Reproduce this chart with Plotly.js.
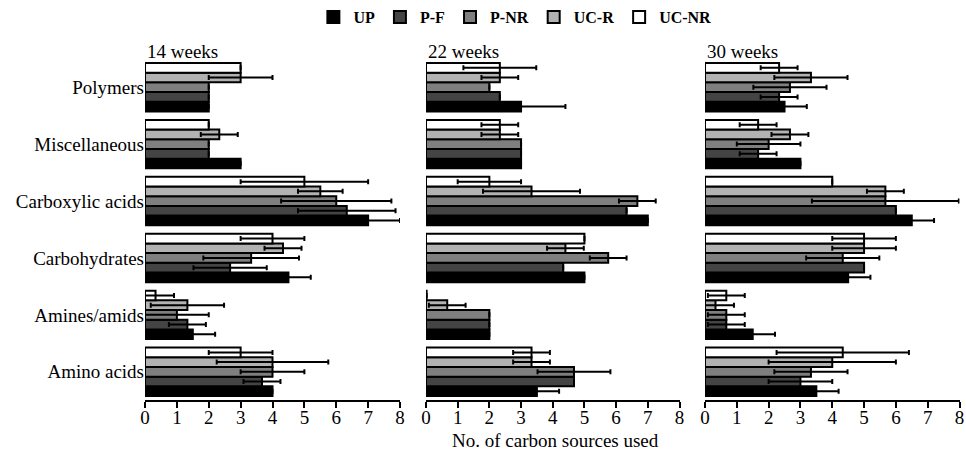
<!DOCTYPE html>
<html>
<head>
<meta charset="utf-8">
<script src="https://cdn.plot.ly/plotly-3.0.1.min.js"></script>
<style>html,body{margin:0;padding:0;background:#fff;}#chart{width:966px;height:456px;}</style>
</head>
<body>
<div id="chart"></div>
<script>
// Categories, listed top to bottom as in the figure
const categories = ['Polymers', 'Miscellaneous', 'Carboxylic acids', 'Carbohydrates', 'Amines/amids', 'Amino acids'];
const seriesNames = ['UP', 'P-F', 'P-NR', 'UC-R', 'UC-NR'];
const panelTitles = ['14 weeks', '22 weeks', '30 weeks'];
const xTicks = [0, 1, 2, 3, 4, 5, 6, 7, 8];

// 14 weeks
const w14_UP = [2, 3, 7, 4.5, 1.5, 4];
const w14_UP_err = [0, 0, 1, 0.7, 0.7, 0];
const w14_PF = [2, 2, 6.33, 2.67, 1.33, 3.67];
const w14_PF_err = [0, 0, 1.53, 1.15, 0.58, 0.58];
const w14_PNR = [2, 2, 6, 3.33, 1, 4];
const w14_PNR_err = [0, 0, 1.73, 1.5, 1, 1];
const w14_UCR = [3, 2.33, 5.5, 4.33, 1.33, 4];
const w14_UCR_err = [1, 0.58, 0.7, 0.58, 1.15, 1.75];
const w14_UCNR = [3, 2, 5, 4, 0.33, 3];
const w14_UCNR_err = [0, 0, 2, 1, 0.58, 1];

// 22 weeks
const w22_UP = [3, 3, 7, 5, 2, 3.5];
const w22_UP_err = [1.4, 0, 0, 0, 0, 0.7];
const w22_PF = [2.33, 3, 6.33, 4.33, 2, 4.67];
const w22_PF_err = [0, 0, 0, 0, 0, 0];
const w22_PNR = [2, 3, 6.67, 5.75, 2, 4.67];
const w22_PNR_err = [0, 0, 0.58, 0.58, 0, 1.15];
const w22_UCR = [2.33, 2.33, 3.33, 4.4, 0.67, 3.33];
const w22_UCR_err = [0.58, 0.58, 1.53, 0.58, 0.58, 0.58];
const w22_UCNR = [2.33, 2.33, 2, 5, 0.02, 3.33];
const w22_UCNR_err = [1.15, 0.58, 1, 0, 0, 0.58];

// 30 weeks
const w30_UP = [2.5, 3, 6.5, 4.5, 1.5, 3.5];
const w30_UP_err = [0.7, 0, 0.7, 0.7, 0.7, 0.7];
const w30_PF = [2.33, 1.67, 6, 5, 0.67, 3];
const w30_PF_err = [0.58, 0.58, 0, 0, 0.58, 1];
const w30_PNR = [2.67, 2, 5.67, 4.33, 0.67, 3.33];
const w30_PNR_err = [1.15, 1, 2.31, 1.15, 0.58, 1.15];
const w30_UCR = [3.33, 2.67, 5.67, 5, 0.33, 4];
const w30_UCR_err = [1.15, 0.58, 0.58, 1, 0.58, 2];
const w30_UCNR = [2.33, 1.67, 4, 5, 0.67, 4.33];
const w30_UCNR_err = [0.58, 0.58, 0, 1, 0.58, 2.08];

const panels = [
  {vals: [w14_UP, w14_PF, w14_PNR, w14_UCR, w14_UCNR], errs: [w14_UP_err, w14_PF_err, w14_PNR_err, w14_UCR_err, w14_UCNR_err]},
  {vals: [w22_UP, w22_PF, w22_PNR, w22_UCR, w22_UCNR], errs: [w22_UP_err, w22_PF_err, w22_PNR_err, w22_UCR_err, w22_UCNR_err]},
  {vals: [w30_UP, w30_PF, w30_PNR, w30_UCR, w30_UCNR], errs: [w30_UP_err, w30_PF_err, w30_PNR_err, w30_UCR_err, w30_UCNR_err]}
];

const colors = ['#000000', '#444444', '#7f7f7f', '#b2b2b2', '#ffffff'];
const FONT = '"Liberation Serif", "Times New Roman", serif';

const traces = [];
panels.forEach((p, pi) => {
  const ax = pi === 0 ? '' : String(pi + 1);
  seriesNames.forEach((s, si) => {
    traces.push({
      type: 'bar',
      orientation: 'h',
      name: s,
      legendgroup: s,
      showlegend: pi === 0,
      y: categories,
      x: p.vals[si],
      xaxis: 'x' + ax,
      yaxis: 'y' + ax,
      marker: {color: colors[si], line: {color: '#000', width: 2}},
      error_x: {type: 'data', array: p.errs[si], visible: true, color: '#000', thickness: 2, width: 2.5},
      hoverinfo: 'x+y+name'
    });
  });
});

const W = 966, H = 456;
const xDomains = [[145 / W, 400 / W], [426 / W, 679.5 / W], [705 / W, 959.5 / W]];
const yDomain = [1 - 400 / H, 1 - 57 / H];

const layout = {
  width: W, height: H,
  margin: {l: 0, r: 0, t: 0, b: 0},
  paper_bgcolor: '#fff', plot_bgcolor: '#fff',
  font: {family: FONT, color: '#000', size: 18},
  barmode: 'group',
  bargap: 0.15,
  bargroupgap: 0,
  showlegend: true,
  legend: {
    orientation: 'h', x: 0.533, xanchor: 'center', y: 1 - 15 / H, yanchor: 'middle',
    traceorder: 'normal', font: {family: FONT, size: 16, weight: 'bold'}, itemwidth: 30
  },
  annotations: [],
};

for (let i = 0; i < 3; i++) {
  const ax = i === 0 ? '' : String(i + 1);
  layout['xaxis' + ax] = {
    domain: xDomains[i], anchor: 'y' + ax, range: [0, 8],
    tickvals: xTicks, ticktext: xTicks.map(String),
    showline: true, linecolor: '#000', linewidth: 2,
    ticks: 'outside', ticklen: 6, tickwidth: 2, tickcolor: '#000',
    ticklabelstandoff: -7,
    showgrid: false, zeroline: false, fixedrange: true,
    tickfont: {family: FONT, size: 19, color: '#000'}
  };
  layout['yaxis' + ax] = {
    domain: yDomain, anchor: 'x' + ax, type: 'category',
    categoryorder: 'array', categoryarray: categories.slice().reverse(),
    range: [-0.5, 5.5],
    showline: false, showgrid: false, zeroline: false, ticks: '',
    showticklabels: i === 0, fixedrange: true,
    tickfont: {family: FONT, size: 19, color: '#000'}
  };
  layout.annotations.push({
    text: panelTitles[i], xref: 'paper', yref: 'paper',
    x: xDomains[i][0], xanchor: 'left', y: 1 - 50 / H, yanchor: 'middle',
    showarrow: false, font: {family: FONT, size: 19, color: '#000'}
  });
}
layout.annotations.push({
  text: 'No. of carbon sources used', xref: 'paper', yref: 'paper',
  x: 555 / W, xanchor: 'center', y: 1 - 440 / H, yanchor: 'middle',
  showarrow: false, font: {family: FONT, size: 19, color: '#000'}
});

Plotly.newPlot('chart', traces, layout, {displayModeBar: false, staticPlot: true});
</script>
</body>
</html>
